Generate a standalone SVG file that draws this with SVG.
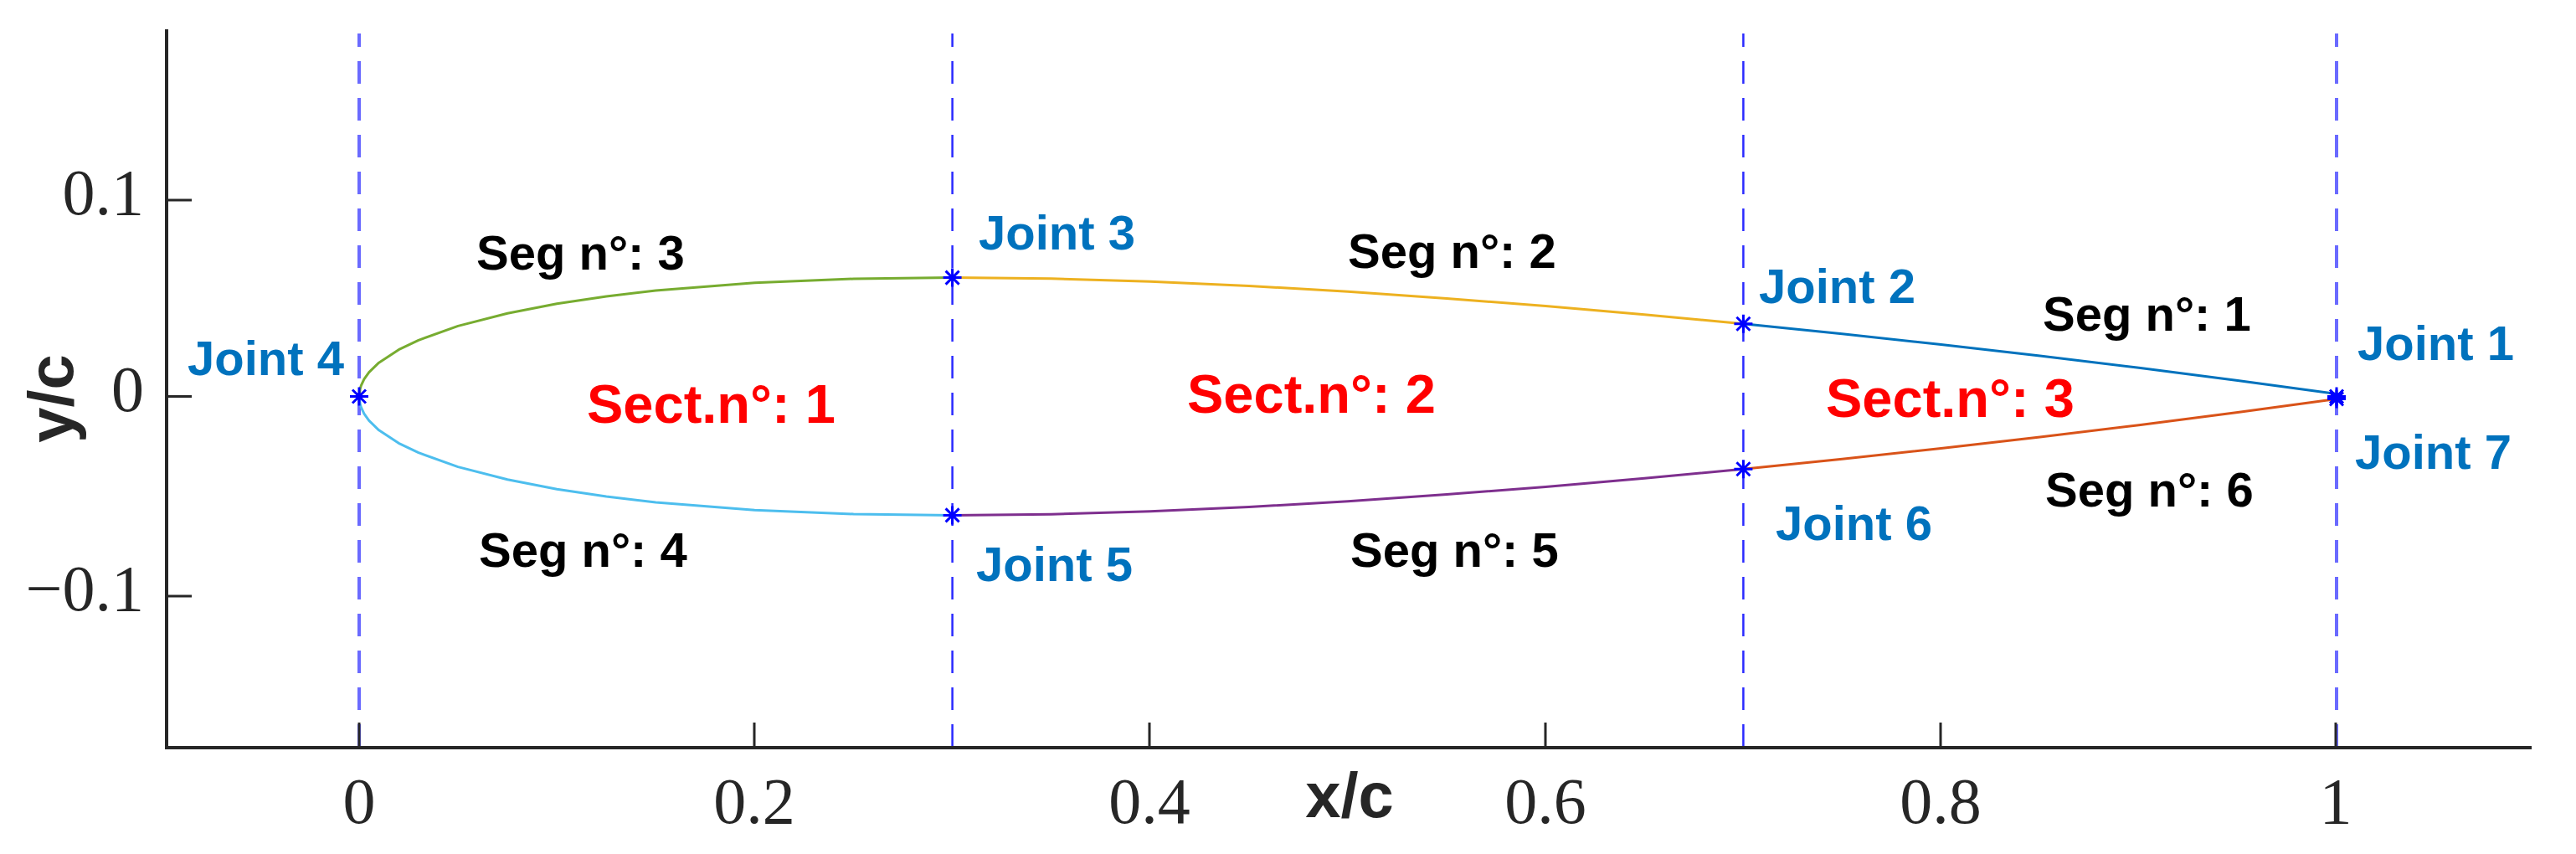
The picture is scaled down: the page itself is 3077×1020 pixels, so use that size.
<svg xmlns="http://www.w3.org/2000/svg" width="3077" height="1020" viewBox="0 0 3077 1020">
<style>
.ax{stroke:#262626;stroke-width:4;fill:none;stroke-linecap:square}
.tk{stroke:#262626;stroke-width:3;fill:none}
.tl{font-family:"Liberation Serif","Times New Roman",serif;font-size:78px;fill:#262626}
.al{font-family:"Liberation Sans",Arial,sans-serif;font-size:76px;font-weight:bold;fill:#262626}
.dsh{fill:none;stroke-dasharray:27 17;stroke-dashoffset:11}
.dO{stroke:#6a6aff;stroke-width:4}
.dI{stroke:#2a2aff;stroke-width:2.5}
.seg{fill:none;stroke-width:3;stroke-linejoin:round;stroke-linecap:round}
.jl{font-family:"Liberation Sans",Arial,sans-serif;font-size:58px;font-weight:bold;fill:#0072BD}
.sl{font-family:"Liberation Sans",Arial,sans-serif;font-size:58px;font-weight:bold;fill:#000}
.sc{font-family:"Liberation Sans",Arial,sans-serif;font-size:65px;font-weight:bold;fill:#FF0000}
</style>
<defs>
<g id="star" stroke="#0000FF" stroke-width="3" fill="none">
<path d="M-11,0H11M0,-11V11M-8,-8L8,8M-8,8L8,-8"/>
</g>
</defs>
<rect width="3077" height="1020" fill="#fff"/>

<g id="guides">
<line class="dsh dO" x1="429" y1="40" x2="429" y2="893"/>
<line class="dsh dI" x1="1137.6" y1="40" x2="1137.6" y2="893"/>
<line class="dsh dI" x1="2082.4" y1="40" x2="2082.4" y2="893"/>
<line class="dsh dO" x1="2791" y1="40" x2="2791" y2="893"/>
</g>

<g id="connectors">
<polyline id="seg1" class="seg" stroke="#0072BD" points="2082.4,386.8 2200.5,398.8 2318.6,411.5 2436.7,424.9 2554.8,439.3 2672.9,454.4 2791,470.5"/>
<polyline id="seg2" class="seg" stroke="#EDB120" points="1137.6,331.6 1255.7,332.8 1373.8,336.3 1491.9,341.5 1610,348.3 1728.1,356.4 1846.2,365.6 1964.3,375.8 2082.4,386.8"/>
<polyline id="seg3" class="seg" stroke="#77AC30" points="429,473.5 430.2,464.2 431.4,460.4 434.9,452.9 440.8,444.6 452.6,433.2 476.2,417.7 499.9,406.3 547.1,389.4 606.2,374.2 665.2,362.8 724.3,353.9 783.3,347.1 901.4,337.8 1019.5,333 1137.6,331.6"/>
<polyline id="seg4" class="seg" stroke="#4DBEEE" points="429,473.5 430.2,482.8 431.4,486.6 434.9,494.1 440.8,502.4 452.6,513.8 476.2,529.3 499.9,540.7 547.1,557.6 606.2,572.8 665.2,584.2 724.3,593.1 783.3,599.9 901.4,609.2 1019.5,614 1137.6,615.4"/>
<polyline id="seg5" class="seg" stroke="#7E2F8E" points="1137.6,615.4 1255.7,614.2 1373.8,610.7 1491.9,605.5 1610,598.7 1728.1,590.6 1846.2,581.4 1964.3,571.2 2082.4,560.2"/>
<polyline id="seg6" class="seg" stroke="#D95319" points="2082.4,560.2 2200.5,548.2 2318.6,535.5 2436.7,522.1 2554.8,507.7 2672.9,492.6 2791,476.5"/>
</g>

<g id="seg-labels">
<text class="sl" x="2440" y="395">Seg n°: 1</text>
<text class="sl" x="1610" y="320">Seg n°: 2</text>
<text class="sl" x="569" y="322">Seg n°: 3</text>
<text class="sl" x="572" y="677">Seg n°: 4</text>
<text class="sl" x="1613" y="677">Seg n°: 5</text>
<text class="sl" x="2443" y="605">Seg n°: 6</text>
</g>

<g id="sections">
<text class="sc" x="701" y="505">Sect.n°: 1</text>
<text class="sc" x="1418" y="493">Sect.n°: 2</text>
<text class="sc" x="2181" y="498">Sect.n°: 3</text>
</g>

<g id="joint1"><use href="#star" x="2791" y="473.5"/><text class="jl" x="2816" y="430">Joint 1</text></g>
<g id="joint2"><use href="#star" x="2082.4" y="386.8"/><text class="jl" x="2101" y="362">Joint 2</text></g>
<g id="joint3"><use href="#star" x="1137.6" y="331.6"/><text class="jl" x="1169" y="298">Joint 3</text></g>
<g id="joint4"><use href="#star" x="429" y="473.5"/><text class="jl" x="224" y="448">Joint 4</text></g>
<g id="joint5"><use href="#star" x="1137.6" y="615.4"/><text class="jl" x="1166" y="694">Joint 5</text></g>
<g id="joint6"><use href="#star" x="2082.4" y="560.2"/><text class="jl" x="2121" y="645">Joint 6</text></g>
<g id="joint7"><use href="#star" x="2791" y="476.5"/><text class="jl" x="2813" y="560">Joint 7</text></g>

<g id="axes">
<path class="ax" d="M199,37V893H3022"/>
<path class="tk" d="M199,239H229M199,473.5H229M199,712H229M429,893V863M901,893V863M1373,893V863M1846,893V863M2318,893V863M2790,893V863"/>
<text class="tl" x="172" y="256" text-anchor="end">0.1</text>
<text class="tl" x="172" y="491" text-anchor="end">0</text>
<text class="tl" x="172" y="729" text-anchor="end">−0.1</text>
<g text-anchor="middle">
<text class="tl" x="429" y="983">0</text>
<text class="tl" x="901" y="983">0.2</text>
<text class="tl" x="1373" y="983">0.4</text>
<text class="tl" x="1846" y="983">0.6</text>
<text class="tl" x="2318" y="983">0.8</text>
<text class="tl" x="2790" y="983">1</text>
</g>
<text class="al" x="1612" y="976" text-anchor="middle">x/c</text>
<text class="al" transform="translate(87,476) rotate(-90)" text-anchor="middle">y/c</text>
</g>
</svg>
